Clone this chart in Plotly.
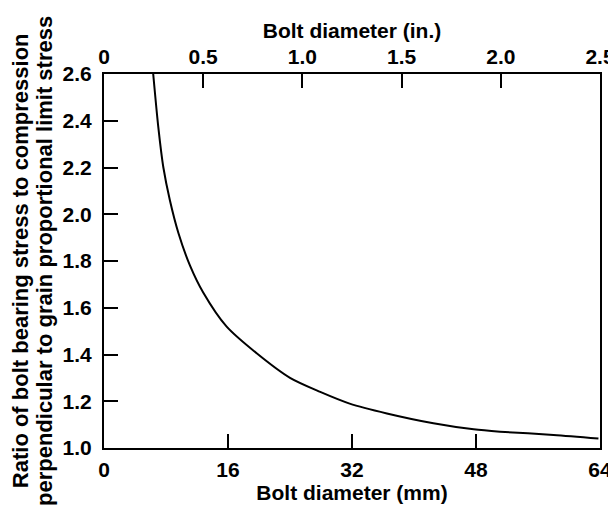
import plotly.graph_objects as go

# curve: bolt diameter (mm) vs bearing stress ratio
diameter_mm = [6.35, 7.0, 7.66, 8.5, 9.6, 11.1, 12.8, 15.8, 19.7, 24.0,
               27.9, 31.7, 36.5, 42.5, 47.7, 51.1, 58.0, 63.8]
ratio = [2.60, 2.375, 2.20, 2.06, 1.92, 1.78, 1.665, 1.52, 1.405, 1.30,
         1.24, 1.19, 1.148, 1.106, 1.08, 1.07, 1.056, 1.041]

mm_ticks = [0, 16, 32, 48, 64]
in_ticks = [0, 0.5, 1.0, 1.5, 2.0, 2.5]
in_labels = ['0', '0.5', '1.0', '1.5', '2.0', '2.5']
ratio_ticks = [1.0, 1.2, 1.4, 1.6, 1.8, 2.0, 2.2, 2.4, 2.6]
y_title = ['Ratio of bolt bearing stress to compression',
           'perpendicular to grain proportional limit stress']

fig = go.Figure()

fig.add_trace(go.Scatter(
    x=diameter_mm,
    y=ratio,
    mode='lines',
    line=dict(color='black', width=2, shape='spline', smoothing=0.8),
    showlegend=False,
    hoverinfo='x+y'
))

# dummy trace so the top (inch) axis gets drawn
fig.add_trace(go.Scatter(
    x=[d / 25.4 for d in diameter_mm],
    y=ratio,
    xaxis='x2',
    mode='lines',
    line=dict(width=0),
    opacity=0,
    showlegend=False,
    hoverinfo='skip'
))

axis_style = dict(
    showgrid=False,
    zeroline=False,
    showline=True,
    linecolor='black',
    linewidth=2,
    ticks='inside',
    ticklen=14,
    tickwidth=2,
    tickcolor='black',
    automargin=False,
    tickfont=dict(size=21, weight='bold'),
)

title_font = dict(size=21, weight='bold')

# page body has an 8px margin, so the figure is shrunk by that much
fig.update_layout(
    width=608,
    height=509,
    margin=dict(l=96, r=16, t=66, b=69),
    plot_bgcolor='white',
    paper_bgcolor='white',
    font=dict(family='Liberation Sans, Arial, sans-serif', size=21,
              color='black', weight='bold'),
    xaxis=dict(
        range=[0, 64],
        tickvals=mm_ticks,
        ticklabelstandoff=2,
        title=dict(text='Bolt diameter (mm)', standoff=0, font=title_font),
        **axis_style
    ),
    xaxis2=dict(
        range=[0, 2.5],
        overlaying='x',
        side='top',
        tickvals=in_ticks,
        ticktext=in_labels,
        ticklabelstandoff=0,
        title=dict(text='Bolt diameter (in.)', standoff=0, font=title_font),
        **axis_style
    ),
    yaxis=dict(
        range=[1.0, 2.6],
        tickvals=ratio_ticks,
        tickformat='.1f',
        mirror=True,
        ticklabelstandoff=6,
        **axis_style
    ),
)

# two-line y title, each line placed on its own
for xpos, line in zip([-0.169, -0.121], y_title):
    fig.add_annotation(
        text=line,
        textangle=-90,
        xref='paper', yref='paper',
        x=xpos, y=0.5,
        xanchor='center', yanchor='middle',
        showarrow=False,
        font=dict(size=22, weight='bold', color='black'),
    )

fig.write_html("out.html")
